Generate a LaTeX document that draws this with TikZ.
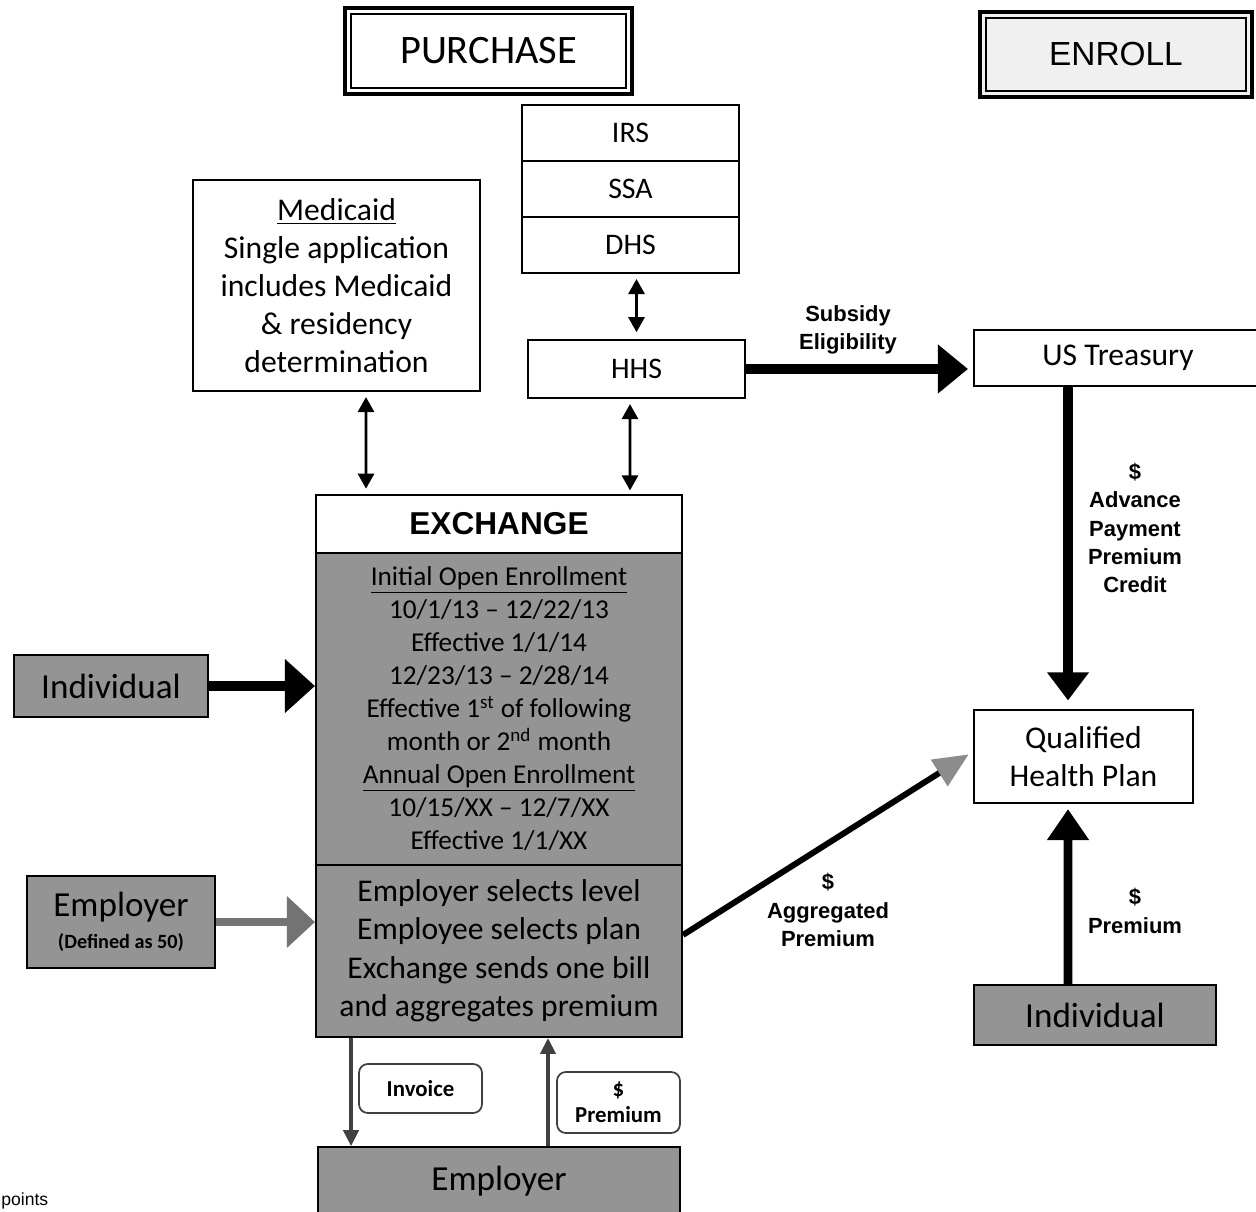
\documentclass[tikz,border=0pt]{standalone}
\usepackage{fontspec}
\setmainfont{Carlito}
\newfontfamily\arialfont{Liberation Sans}
\usetikzlibrary{arrows.meta, positioning}

\begin{document}
\begin{tikzpicture}[x=0.02cm, y=-0.02cm,
    box/.style={draw, line width=0.9pt, rectangle, align=center, inner sep=2pt, font=\fontsize{18}{21.6}\selectfont},
    stack/.style={box, minimum width=4.34cm, minimum height=1.12cm, font=\fontsize{17}{20}\selectfont},
    graybox/.style={box, fill=black!42, font=\fontsize{20}{23}\selectfont},
    panel/.style={draw, line width=1.2pt, fill=black!42, minimum width=7.32cm, align=center},
    stamp/.style={draw, line width=2.6pt, minimum width=5.74cm, minimum height=1.72cm},
    note/.style={draw=black!75, line width=1pt, rounded corners=5pt, minimum width=2.46cm, align=center, font=\bfseries\fontsize{13}{15}\selectfont},
    tag/.style={align=center, font=\arialfont\bfseries\fontsize{12.5}{16}\selectfont},
    dbl/.style={{Triangle[length=0.3cm,width=0.32cm]}-{Triangle[length=0.3cm,width=0.32cm]}, line width=1.6pt},
    big/.style={-{Triangle[length=0.6cm,width=0.95cm]}, line width=5pt},
    billarrow/.style={-{Triangle[length=0.32cm,width=0.3cm]}, line width=2.2pt, draw=black!75}
]
\useasboundingbox (0,0) rectangle (1256,1212);

% Headings
\node[stamp, font=\fontsize{23}{26}\selectfont] (purchase) at (488.5,51) {PURCHASE};
\draw[line width=1.1pt] ([shift={(8,8)}]purchase.north west) rectangle ([shift={(-8,-8)}]purchase.south east);
\node[stamp, minimum width=5.44cm, minimum height=1.7cm, fill=black!6, font=\arialfont\fontsize{19}{22}\selectfont] (enroll) at (1116,54.5) {ENROLL};
\draw[line width=1.1pt] ([shift={(8,8)}]enroll.north west) rectangle ([shift={(-8,-8)}]enroll.south east);

% Federal agencies
\node[stack] (irs) at (630.5,133) {IRS};
\node[stack, below=-0.9pt of irs] (ssa) {SSA};
\node[stack, below=-0.9pt of ssa] (dhs) {DHS};
\node[stack, minimum height=1.16cm] (hhs) at (636.5,369) {HHS};

% Medicaid
\node[box, minimum width=5.74cm, minimum height=4.22cm] (medicaid) at (336.5,285.5) {\underline{Medicaid}\\Single application\\includes Medicaid\\\& residency\\determination};

% Exchange
\node[box, minimum width=7.32cm, minimum height=1.16cm, line width=1.2pt, font=\arialfont\bfseries\fontsize{18}{21}\selectfont] (exch) at (499,524) {EXCHANGE};
\node[panel, minimum height=6.24cm, font=\fontsize{15.5}{18.8}\selectfont, below=-1.2pt of exch] (exchtop) {\underline{Initial Open Enrollment}\\10/1/13 -- 12/22/13\\Effective 1/1/14\\12/23/13 -- 2/28/14\\Effective 1\textsuperscript{st} of following\\month or 2\textsuperscript{nd} month\\\underline{Annual Open Enrollment}\\10/15/XX -- 12/7/XX\\Effective 1/1/XX};
\node[panel, minimum height=3.44cm, font=\fontsize{18}{21.9}\selectfont, below=-1.2pt of exchtop] (exchbot) {Employer selects level\\Employee selects plan\\Exchange sends one bill\\and aggregates premium};

% Purchasers
\node[graybox, minimum width=3.88cm, minimum height=1.24cm] (indivL) at (111,686) {Individual};
\node[graybox, minimum width=3.76cm, minimum height=1.84cm] (emplL) at (121,922) {Employer\\[-4.5pt]{\bfseries\fontsize{11.5}{13}\selectfont (Defined as 50)}};
\node[graybox, minimum width=7.24cm, minimum height=1.36cm] (emplB) at (499,1181) {Employer};
\node[note, minimum height=0.98cm] (invoice) at (420.5,1088.5) {Invoice};
\node[note, minimum height=1.22cm] (paid) at (618.5,1102.5) {\$\\Premium};

% Enroll side
\node[box, minimum width=5.76cm, minimum height=1.12cm] (treasury) at (1118,358) {US Treasury};
\node[box, minimum width=4.38cm, minimum height=1.86cm] (qhp) at (1083.5,756.5) {Qualified\\Health Plan};
\node[graybox, minimum width=4.84cm, minimum height=1.2cm] (indivR) at (1095,1015) {Individual};

% Labels
\node[tag] (subsidy) at (848,330) {Subsidy\\Eligibility};
\node[tag] (advance) at (1135,528) {\$\\Advance\\Payment\\Premium\\Credit};
\node[tag] (aggr) at (828,910) {\$\\Aggregated\\Premium};
\node[tag] (prem) at (1135,911) {\$\\Premium};
\node[anchor=base west, inner sep=0pt, font=\arialfont\fontsize{10}{12}\selectfont] (pts) at (1,1205) {points};

% Data exchange
\draw[dbl, shorten <=3pt, shorten >=3pt] ([xshift=0.59cm]medicaid.south) -- ([xshift=-2.66cm]exch.north);
\draw[dbl, shorten <=3pt, shorten >=4pt] (hhs.north |- dhs.south) -- (hhs.north);
\draw[dbl, shorten <=3pt, shorten >=2pt] ([xshift=-0.13cm]hhs.south) -- ([xshift=2.62cm]exch.north);

% Purchase flows
\draw[big, line width=6pt, -{Triangle[length=0.6cm,width=1.04cm]}] (indivL) -- (indivL -| exchtop.west);
\draw[big, draw=black!55, -{Triangle[length=0.56cm,width=1cm]}] (emplL) -- (emplL -| exchbot.west);
\draw[billarrow] ([xshift=-2.96cm]exchbot.south) -- ([xshift=-2.96cm]emplB.north);
\draw[billarrow] ([xshift=0.98cm]emplB.north) -- ([xshift=0.98cm]exchbot.south);

% Money and eligibility
\draw[big, line width=5.5pt, -{Triangle[length=0.6cm,width=0.94cm]}, shorten >=3pt] (hhs.east) -- (hhs.east -| treasury.west);
\draw[big, line width=5.5pt, -{Triangle[length=0.56cm,width=0.8cm]}, shorten >=5pt] ([xshift=-1cm]treasury.south) -- ([xshift=-0.31cm]qhp.north);
\draw[big, -{Triangle[length=0.62cm,width=0.8cm]}, shorten >=3pt] ([xshift=-0.54cm]indivR.north) -- ([xshift=-0.31cm]qhp.south);
\draw[line width=3.4pt, -{Triangle[length=0.7cm,width=0.6cm,color=black!45]}, shorten >=3pt] ([yshift=0.32cm]exchbot.east) -- ([yshift=0.1cm]qhp.west);

\end{tikzpicture}
\end{document}
